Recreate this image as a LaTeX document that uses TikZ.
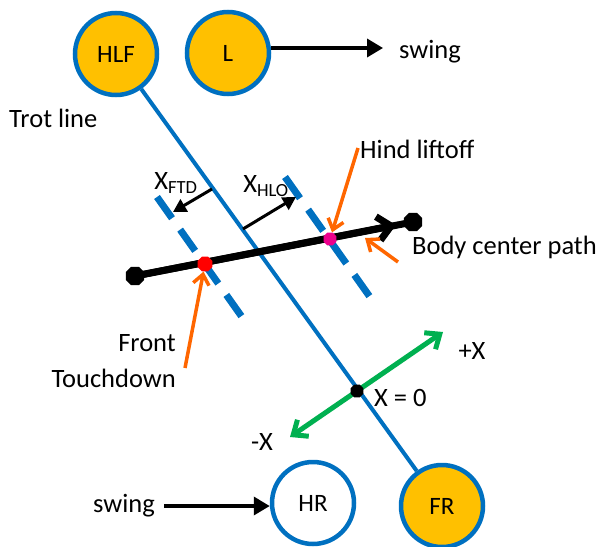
\documentclass[tikz,border=0pt]{standalone}
\usepackage{fontspec}
\setmainfont{Carlito}
\usetikzlibrary{arrows.meta,shapes.geometric}
\definecolor{lblue}{RGB}{0,112,192}
\definecolor{lgold}{RGB}{255,192,0}
\definecolor{lgreen}{RGB}{0,176,80}
\definecolor{lorange}{RGB}{255,102,0}
\tikzset{
  leg/.style={circle,draw=lblue,line width=4.5pt,minimum size=82pt,inner sep=0pt,font=\fontsize{25}{29}\selectfont},
  stance/.style={leg,fill=lgold},
  lbl/.style={font=\fontsize{26.5}{31}\selectfont,inner sep=0pt},
  oct/.style={regular polygon,regular polygon sides=8,inner sep=0pt,draw=none},
  dashline/.style={lblue,line width=7pt,dash pattern=on 26pt off 14pt},
  oarrow/.style={lorange,line width=3.5pt,-{Straight Barb[length=10pt,width=16pt]}},
  barrow/.style={black,line width=3.5pt,-{Triangle[length=16pt,width=18pt]}},
}
\begin{document}
\begin{tikzpicture}[x=1pt,y=-1pt]
\useasboundingbox (0,0) rectangle (602,546);
% legs
\node[stance] (HLF) at (116,54) {HLF};
\node[stance] (L) at (228,53) {L};
\node[leg,fill=white] (HR) at (313,503) {HR};
\node[stance] (FR) at (442,506) {FR};
% trot line
\draw[lblue,line width=4pt] (HLF) -- (FR);
% dashed lines
\coordinate (d1a) at (157,197);
\coordinate (d1b) at (242,317);
\coordinate (d2a) at (285,177);
\coordinate (d2b) at (370,297);
\draw[dashline] (d1a) -- (d1b);
\draw[dashline] (d2a) -- (d2b);
% body center path
\node[oct,fill=black,minimum size=20pt] (BL) at (135,276) {};
\node[oct,fill=black,minimum size=20pt] (BR) at (413,222) {};
\coordinate (btip) at (396,225);
\draw[line width=7pt] (BL.center) -- (BR.center);
\draw[line width=7pt,-{Straight Barb[length=13pt,width=24pt]}] (BL.center) -- (btip);
\node[oct,fill=red,minimum size=16pt] (FTD) at (205,264) {};
\node[oct,fill=magenta,minimum size=14pt] (HLO) at (330,239) {};
% X arrows
\coordinate (xf0) at (212,189);
\coordinate (xf1) at (173,212);
\coordinate (xh0) at (243,229);
\coordinate (xh1) at (296,197);
\draw[line width=3pt,-{Triangle[length=13pt,width=14pt]}] (xf0) -- (xf1);
\draw[line width=3pt,-{Triangle[length=13pt,width=14pt]}] (xh0) -- (xh1);
\node[lbl] (XFTD) at (176,183) {X\textsubscript{FTD}};
\node[lbl] (XHLO) at (266,186) {X\textsubscript{HLO}};
% green axis
\coordinate (gm) at (290,437);
\coordinate (gp) at (443,332);
\draw[lgreen,line width=5pt,{Straight Barb[length=12pt,width=20pt]}-{Straight Barb[length=12pt,width=20pt]}] (gm) -- (gp);
\node[oct,fill=black,minimum size=14pt] (X0) at (357,391) {};
% orange arrows
\node[lbl,anchor=west] (hind) at (360,149) {Hind liftoff};
\coordinate (ho0) at (358,148);
\draw[oarrow] (ho0) -- (HLO);
\node[lbl,anchor=west] (body) at (412,247) {Body center path};
\coordinate (bo0) at (398,262);
\coordinate (bo1) at (365,238);
\draw[oarrow] (bo0) -- (bo1);
\node[lbl,anchor=east,align=right] (front) at (176,361) {Front\\[5pt]Touchdown};
\coordinate (fo0) at (185,368);
\draw[oarrow] (fo0) -- (FTD);
% labels
\node[lbl,anchor=west] (trot) at (9,118) {Trot line};
\node[lbl,anchor=west] (sw1) at (399,52) {swing};
\node[lbl,anchor=east] (sw2) at (155,506) {swing};
\coordinate (s1b) at (383,48);
\draw[barrow] (L.east |- s1b) -- (s1b);
\coordinate (s2a) at (164,506);
\draw[barrow] (s2a) -- (HR.west |- s2a);
\node[lbl] (px) at (472,351) {+X};
\node[lbl,anchor=west] (x0) at (374,398) {X = 0};
\node[lbl] (mx) at (262,442) {-X};
\end{tikzpicture}
\end{document}
